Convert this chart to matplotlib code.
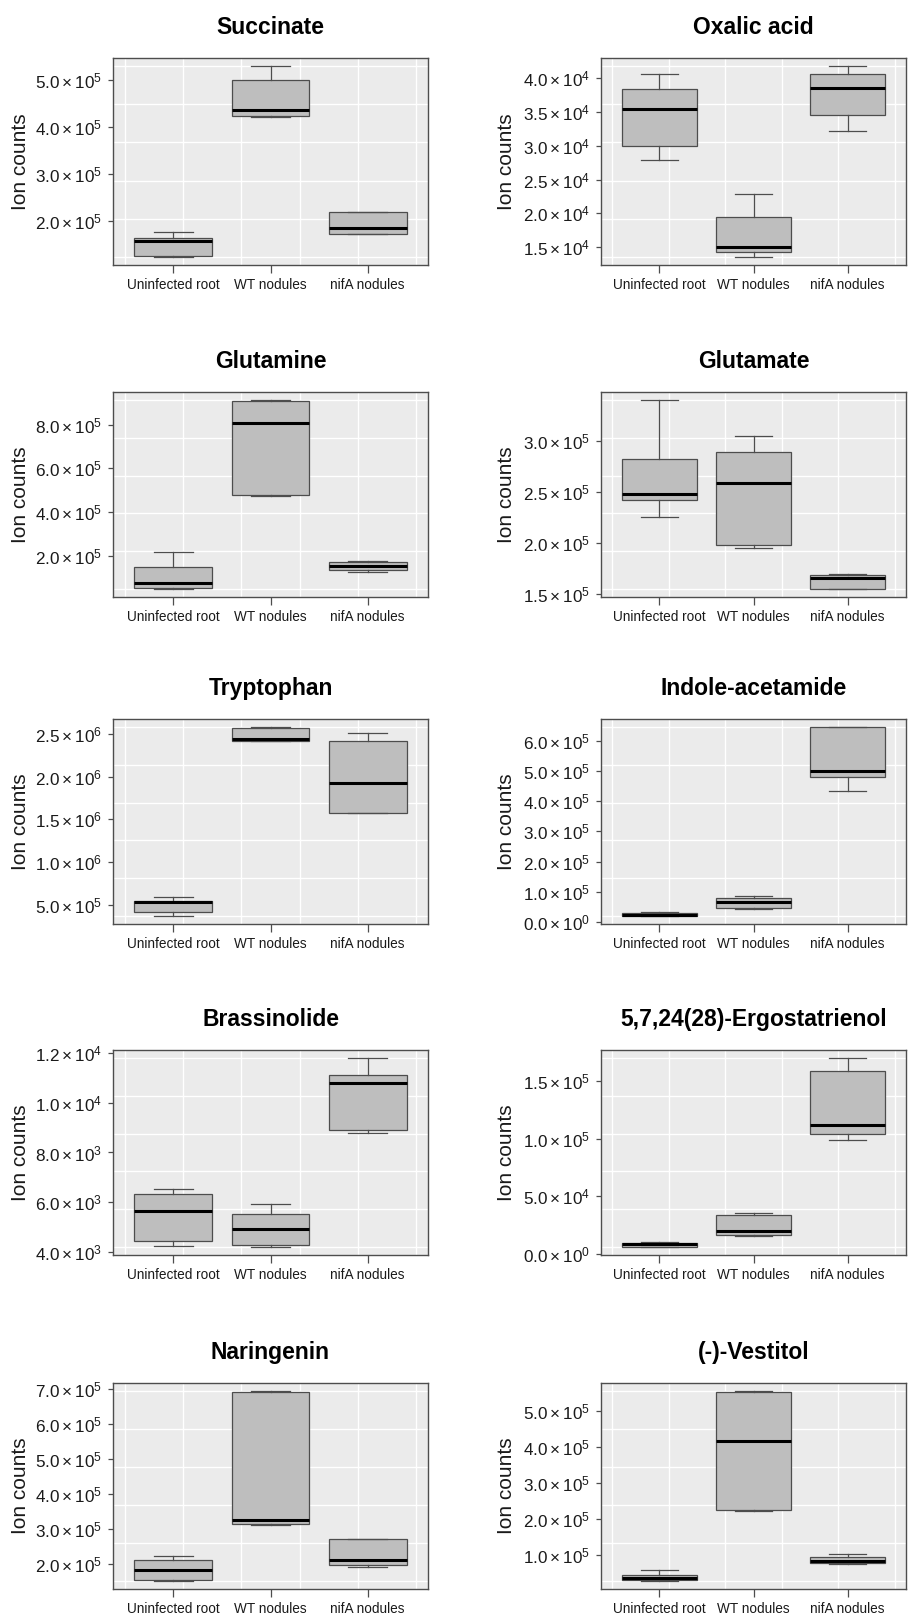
import numpy as np
import matplotlib
matplotlib.use('Agg')
import matplotlib.pyplot as plt

plt.rcParams['font.family'] = ['Liberation Sans', 'DejaVu Sans']
plt.rcParams['mathtext.fontset'] = 'custom'
plt.rcParams['mathtext.rm'] = 'Liberation Sans'
plt.rcParams['mathtext.it'] = 'Liberation Sans:italic'
plt.rcParams['mathtext.bf'] = 'Liberation Sans:bold'

groups = ["Uninfected root", "WT nodules", "nifA nodules"]

# five-number summaries per group: [lower whisker, Q1, median, Q3, upper whisker]
succinate = [[1.23e5, 1.25e5, 1.57e5, 1.636e5, 1.758e5],
             [4.22e5, 4.23e5, 4.36e5, 5.00e5, 5.30e5],
             [1.72e5, 1.736e5, 1.85e5, 2.185e5, 2.19e5]]
oxalic = [[2.787e4, 3.00e4, 3.543e4, 3.846e4, 4.065e4],
          [1.35e4, 1.425e4, 1.51e4, 1.947e4, 2.285e4],
          [3.215e4, 3.458e4, 3.861e4, 4.065e4, 4.184e4]]
glutamine = [[0.483e5, 0.544e5, 0.771e5, 1.50e5, 2.168e5],
             [4.72e5, 4.78e5, 8.076e5, 9.078e5, 9.139e5],
             [1.27e5, 1.39e5, 1.546e5, 1.728e5, 1.774e5]]
glutamate = [[2.26e5, 2.419e5, 2.485e5, 2.824e5, 3.408e5],
             [1.956e5, 1.979e5, 2.586e5, 2.889e5, 3.055e5],
             [1.545e5, 1.546e5, 1.656e5, 1.686e5, 1.699e5]]
tryptophan = [[0.364e6, 0.414e6, 0.535e6, 0.547e6, 0.593e6],
              [2.422e6, 2.423e6, 2.438e6, 2.574e6, 2.586e6],
              [1.570e6, 1.578e6, 1.924e6, 2.414e6, 2.508e6]]
indole = [[0.19e5, 0.20e5, 0.25e5, 0.30e5, 0.35e5],
          [0.45e5, 0.473e5, 0.681e5, 0.791e5, 0.868e5],
          [4.34e5, 4.80e5, 4.99e5, 6.46e5, 6.46e5]]
brassinolide = [[4.254e3, 4.455e3, 5.63e3, 6.324e3, 6.524e3],
                [4.187e3, 4.28e3, 4.935e3, 5.536e3, 5.95e3],
                [8.795e3, 8.915e3, 1.078e4, 1.111e4, 1.181e4]]
ergostatrienol = [[0.577e4, 0.635e4, 0.837e4, 0.923e4, 1.07e4],
                  [1.53e4, 1.645e4, 1.96e4, 3.40e4, 3.52e4],
                  [0.987e5, 1.044e5, 1.117e5, 1.59e5, 1.702e5]]
naringenin = [[1.514e5, 1.552e5, 1.829e5, 2.114e5, 2.248e5],
              [3.124e5, 3.143e5, 3.276e5, 6.924e5, 6.952e5],
              [1.933e5, 1.981e5, 2.124e5, 2.714e5, 2.714e5]]
vestitol = [[0.276e5, 0.322e5, 0.378e5, 0.443e5, 0.601e5],
            [2.234e5, 2.262e5, 4.183e5, 5.548e5, 5.575e5],
            [0.768e5, 0.796e5, 0.833e5, 0.953e5, 1.046e5]]

succinate_ticks = [2e5, 3e5, 4e5, 5e5]
oxalic_ticks = [1.5e4, 2.0e4, 2.5e4, 3.0e4, 3.5e4, 4.0e4]
glutamine_ticks = [2e5, 4e5, 6e5, 8e5]
glutamate_ticks = [1.5e5, 2.0e5, 2.5e5, 3.0e5]
tryptophan_ticks = [5e5, 1.0e6, 1.5e6, 2.0e6, 2.5e6]
indole_ticks = [0, 1e5, 2e5, 3e5, 4e5, 5e5, 6e5]
brassinolide_ticks = [4e3, 6e3, 8e3, 1.0e4, 1.2e4]
ergostatrienol_ticks = [0, 5e4, 1.0e5, 1.5e5]
naringenin_ticks = [2e5, 3e5, 4e5, 5e5, 6e5, 7e5]
vestitol_ticks = [1e5, 2e5, 3e5, 4e5, 5e5]

titles = ["Succinate", "Oxalic acid", "Glutamine", "Glutamate", "Tryptophan",
          "Indole-acetamide", "Brassinolide", "5,7,24(28)-Ergostatrienol",
          "Naringenin", "(-)-Vestitol"]
panels = [succinate, oxalic, glutamine, glutamate, tryptophan, indole,
          brassinolide, ergostatrienol, naringenin, vestitol]
ticks = [succinate_ticks, oxalic_ticks, glutamine_ticks, glutamate_ticks,
         tryptophan_ticks, indole_ticks, brassinolide_ticks,
         ergostatrienol_ticks, naringenin_ticks, vestitol_ticks]


def sci_label(v):
    if v == 0:
        return r'$0.0\times10^{0}$'
    e = int(np.floor(np.log10(abs(v)) + 1e-9))
    m = v / 10 ** e
    return r'$%.1f\times10^{%d}$' % (m, e)


W, H = 908, 1618
fig = plt.figure(figsize=(W / 100, H / 100), dpi=100)
fig.patch.set_facecolor('white')

col_x = [(113, 428), (601, 906)]
row_y = [(58, 265), (392, 597), (719, 924), (1050, 1255), (1383, 1589)]

edge = '#4D4D4D'
for i, (title, data, tk) in enumerate(zip(titles, panels, ticks)):
    r, c = divmod(i, 2)
    x0, x1 = col_x[c]
    y0, y1 = row_y[r]
    ax = fig.add_axes([x0 / W, 1 - y1 / H, (x1 - x0) / W, (y1 - y0) / H])
    ax.set_facecolor('#EBEBEB')

    stats = [dict(whislo=d[0], q1=d[1], med=d[2], q3=d[3], whishi=d[4],
                  fliers=[], label=g) for d, g in zip(data, groups)]
    ax.bxp(stats, positions=[1, 2, 3], widths=0.8, capwidths=0.4,
           showfliers=False, patch_artist=True,
           boxprops=dict(facecolor='#BEBEBE', edgecolor=edge, linewidth=0.9),
           whiskerprops=dict(color=edge, linewidth=0.9),
           capprops=dict(color=edge, linewidth=0.9),
           medianprops=dict(color='black', linewidth=2.2),
           zorder=3)

    lo = min(d[0] for d in data)
    hi = max(d[4] for d in data)
    for gy in np.linspace(lo, hi, 6):
        ax.axhline(gy, color='white', lw=1.0, zorder=1)
    for gx in np.linspace(0.5, 3.5, 6):
        ax.axvline(gx, color='white', lw=1.0, zorder=1)

    ax.set_xlim(0.5 - 0.04 * 3, 3.5 + 0.04 * 3)
    ax.set_ylim(lo - 0.04 * (hi - lo), hi + 0.04 * (hi - lo))

    ax.set_xticks([1, 2, 3])
    ax.set_xticklabels(groups, fontsize=9.8, color='#1a1a1a')
    ax.set_yticks(tk)
    ax.set_yticklabels([sci_label(v) for v in tk], fontsize=12.3, color='#1a1a1a')
    ax.tick_params(axis='x', length=5.5, width=0.9, color=edge, pad=4)
    ax.tick_params(axis='y', length=3.6, width=0.9, color=edge, pad=4.5)

    for s in ax.spines.values():
        s.set_color(edge)
        s.set_linewidth(1.0)

    ax.set_title(title, fontsize=16.5, fontweight='bold', pad=17)
    ax.set_ylabel('Ion counts', fontsize=15, color='#1a1a1a')
    lx = 21 if c == 0 else 507
    ax.yaxis.set_label_coords((lx - x0) / (x1 - x0), 0.5)
    ax.yaxis.label.set_va('center')

fig.savefig('out.png', dpi=100, facecolor='white')
